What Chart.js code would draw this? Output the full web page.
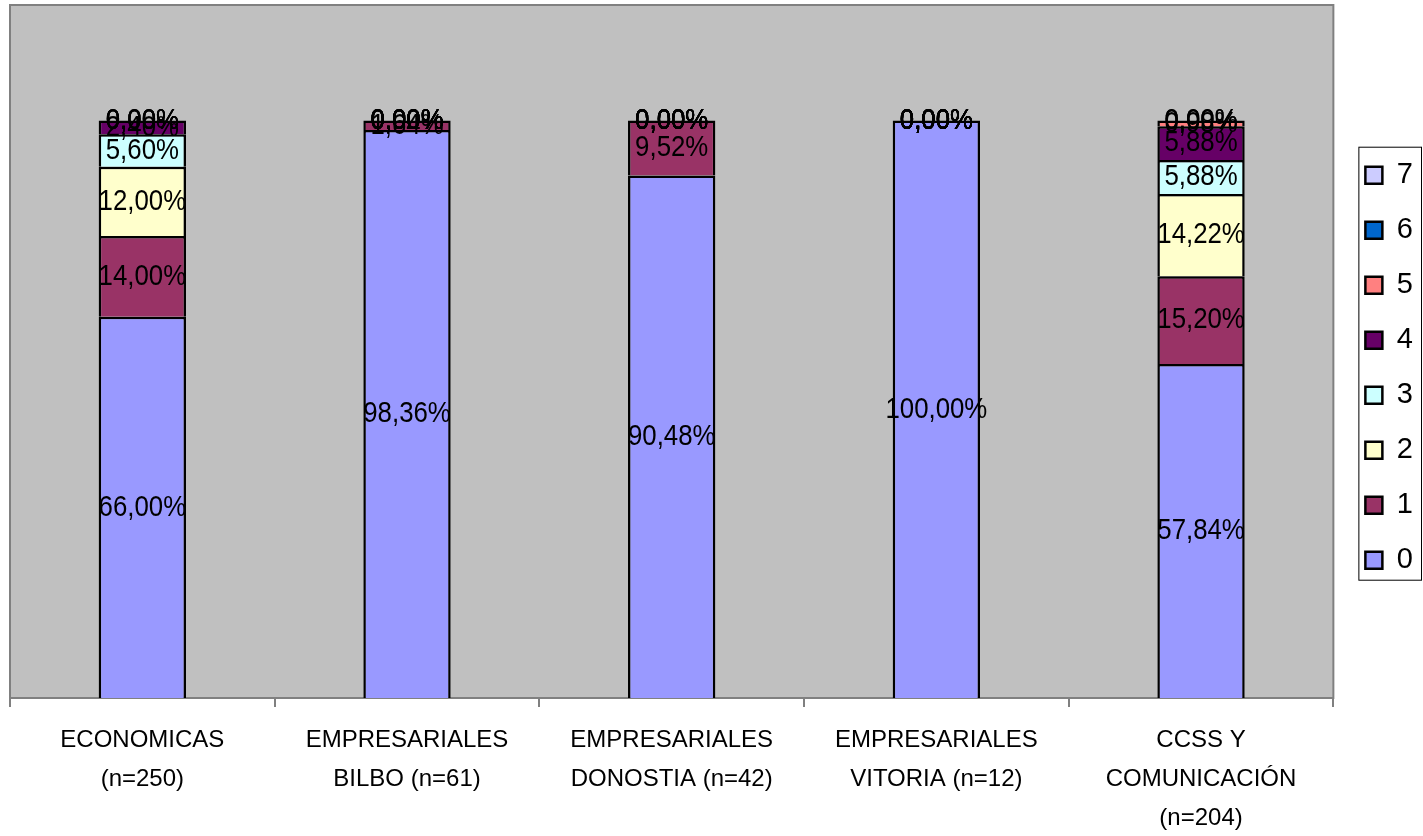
<!DOCTYPE html>
<html>
<head>
<meta charset="utf-8">
<script src="https://cdn.jsdelivr.net/npm/chart.js@4/dist/chart.umd.min.js"></script>
<style>
  body { margin: 0; background: #fff; }
  #wrap { width: 1423px; height: 836px; }
</style>
</head>
<body>
<div id="wrap"><canvas id="chart" width="1423" height="836"></canvas></div>
<script>
// categories (x axis)
const categories = [
  ['ECONOMICAS', '(n=250)'],
  ['EMPRESARIALES', 'BILBO (n=61)'],
  ['EMPRESARIALES', 'DONOSTIA (n=42)'],
  ['EMPRESARIALES', 'VITORIA (n=12)'],
  ['CCSS Y', 'COMUNICACIÓN', '(n=204)']
];

const seriesNames = ['0', '1', '2', '3', '4', '5', '6', '7'];

// percentages per series
const s0 = [66.00, 98.36, 90.48, 100.00, 57.84];
const s1 = [14.00, 1.64, 9.52, 0, 15.20];
const s2 = [12.00, 0, 0, 0, 14.22];
const s3 = [5.60, 0, 0, 0, 5.88];
const s4 = [2.40, 0, 0, 0, 5.88];
const s5 = [0, 0, 0, 0, 0.98];
const s6 = [0, 0, 0, 0, 0];
const s7 = [0, 0, 0, 0, 0];

const colors = ['#9999ff', '#993366', '#ffffcc', '#ccffff', '#660066', '#ff8080', '#0066cc', '#ccccff'];

const values = [s0, s1, s2, s3, s4, s5, s6, s7];
let datasets = [];
for (let i = 0; i < values.length; i++) {
  datasets.push({
    label: seriesNames[i],
    data: values[i],
    backgroundColor: colors[i],
    borderColor: '#000',
    borderWidth: 2.5,
    barPercentage: 0.33,
    categoryPercentage: 1
  });
}

const fmt = v => v.toFixed(2).replace('.', ',') + '%';

// grey plot area with a border
const plotBg = {
  id: 'plotBg',
  beforeDatasetsDraw(chart) {
    const a = chart.chartArea, ctx = chart.ctx;
    ctx.save();
    ctx.fillStyle = '#c0c0c0';
    ctx.fillRect(a.left, a.top, a.right - a.left, a.bottom - a.top);
    ctx.strokeStyle = '#808080';
    ctx.lineWidth = 2;
    ctx.strokeRect(a.left, a.top, a.right - a.left, a.bottom - a.top);
    ctx.restore();
  }
};

// value labels in the middle of every segment (squeezed like the original)
const segLabels = {
  id: 'segLabels',
  afterDatasetsDraw(chart) {
    const ctx = chart.ctx;
    chart.data.datasets.forEach((ds, i) => {
      const meta = chart.getDatasetMeta(i);
      meta.data.forEach((bar, j) => {
        const p = bar.getProps(['x', 'y', 'base'], true);
        ctx.save();
        ctx.translate(p.x, (p.y + p.base) / 2);
        ctx.scale(0.86, 1);
        ctx.font = '30px "Liberation Sans", Arial';
        ctx.fillStyle = '#000';
        ctx.textAlign = 'center';
        ctx.textBaseline = 'middle';
        ctx.fillText(fmt(ds.data[j]), 0, 0);
        ctx.restore();
      });
    });
  }
};

// frame round the legend
const legendFrame = {
  id: 'legendFrame',
  afterDraw(chart) {
    const hb = chart.legend.legendHitBoxes;
    if (!hb || !hb.length) return;
    const last = hb[hb.length - 1];
    const top = hb[0].top - 14;
    const bottom = last.top + last.height + 5;
    const left = hb[0].left - 7;
    const ctx = chart.ctx;
    ctx.save();
    ctx.strokeStyle = '#000';
    ctx.lineWidth = 1;
    ctx.strokeRect(left + 0.5, top + 0.5, chart.width - 2 - left, bottom - top);
    ctx.restore();
  }
};

new Chart(document.getElementById('chart').getContext('2d'), {
  type: 'bar',
  data: {
    labels: categories,
    datasets: datasets
  },
  options: {
    responsive: false,
    animation: false,
    layout: { padding: { left: 10, top: 5, right: 0, bottom: -16 } },
    scales: {
      x: {
        stacked: true,
        grid: { display: true, drawOnChartArea: false, drawTicks: true, tickLength: 9, color: '#808080', lineWidth: 2 },
        border: { display: true, color: '#404040', width: 2 },
        ticks: {
          color: '#000',
          padding: 14,
          maxRotation: 0,
          autoSkip: false,
          font: { family: '"Liberation Sans", Arial', size: 24, lineHeight: 1.625 }
        }
      },
      y: {
        stacked: true,
        display: false,
        min: 0,
        max: 120
      },
      y2: {
        type: 'linear',
        position: 'right',
        display: true,
        grid: { display: false },
        border: { display: false },
        ticks: { display: false },
        afterFit(s) { s.width = 6; }
      }
    },
    plugins: {
      legend: {
        position: 'right',
        fullSize: false,
        reverse: true,
        align: 'center',
        title: { display: true, text: '', font: { size: 12 }, padding: { top: 18, bottom: 0 } },
        labels: {
          color: '#000',
          boxWidth: 17,
          boxHeight: 17,
          padding: 26,
          font: { family: '"Liberation Sans", Arial', size: 29 }
        }
      },
      tooltip: { enabled: false }
    }
  },
  plugins: [plotBg, segLabels, legendFrame]
});
</script>
</body>
</html>
